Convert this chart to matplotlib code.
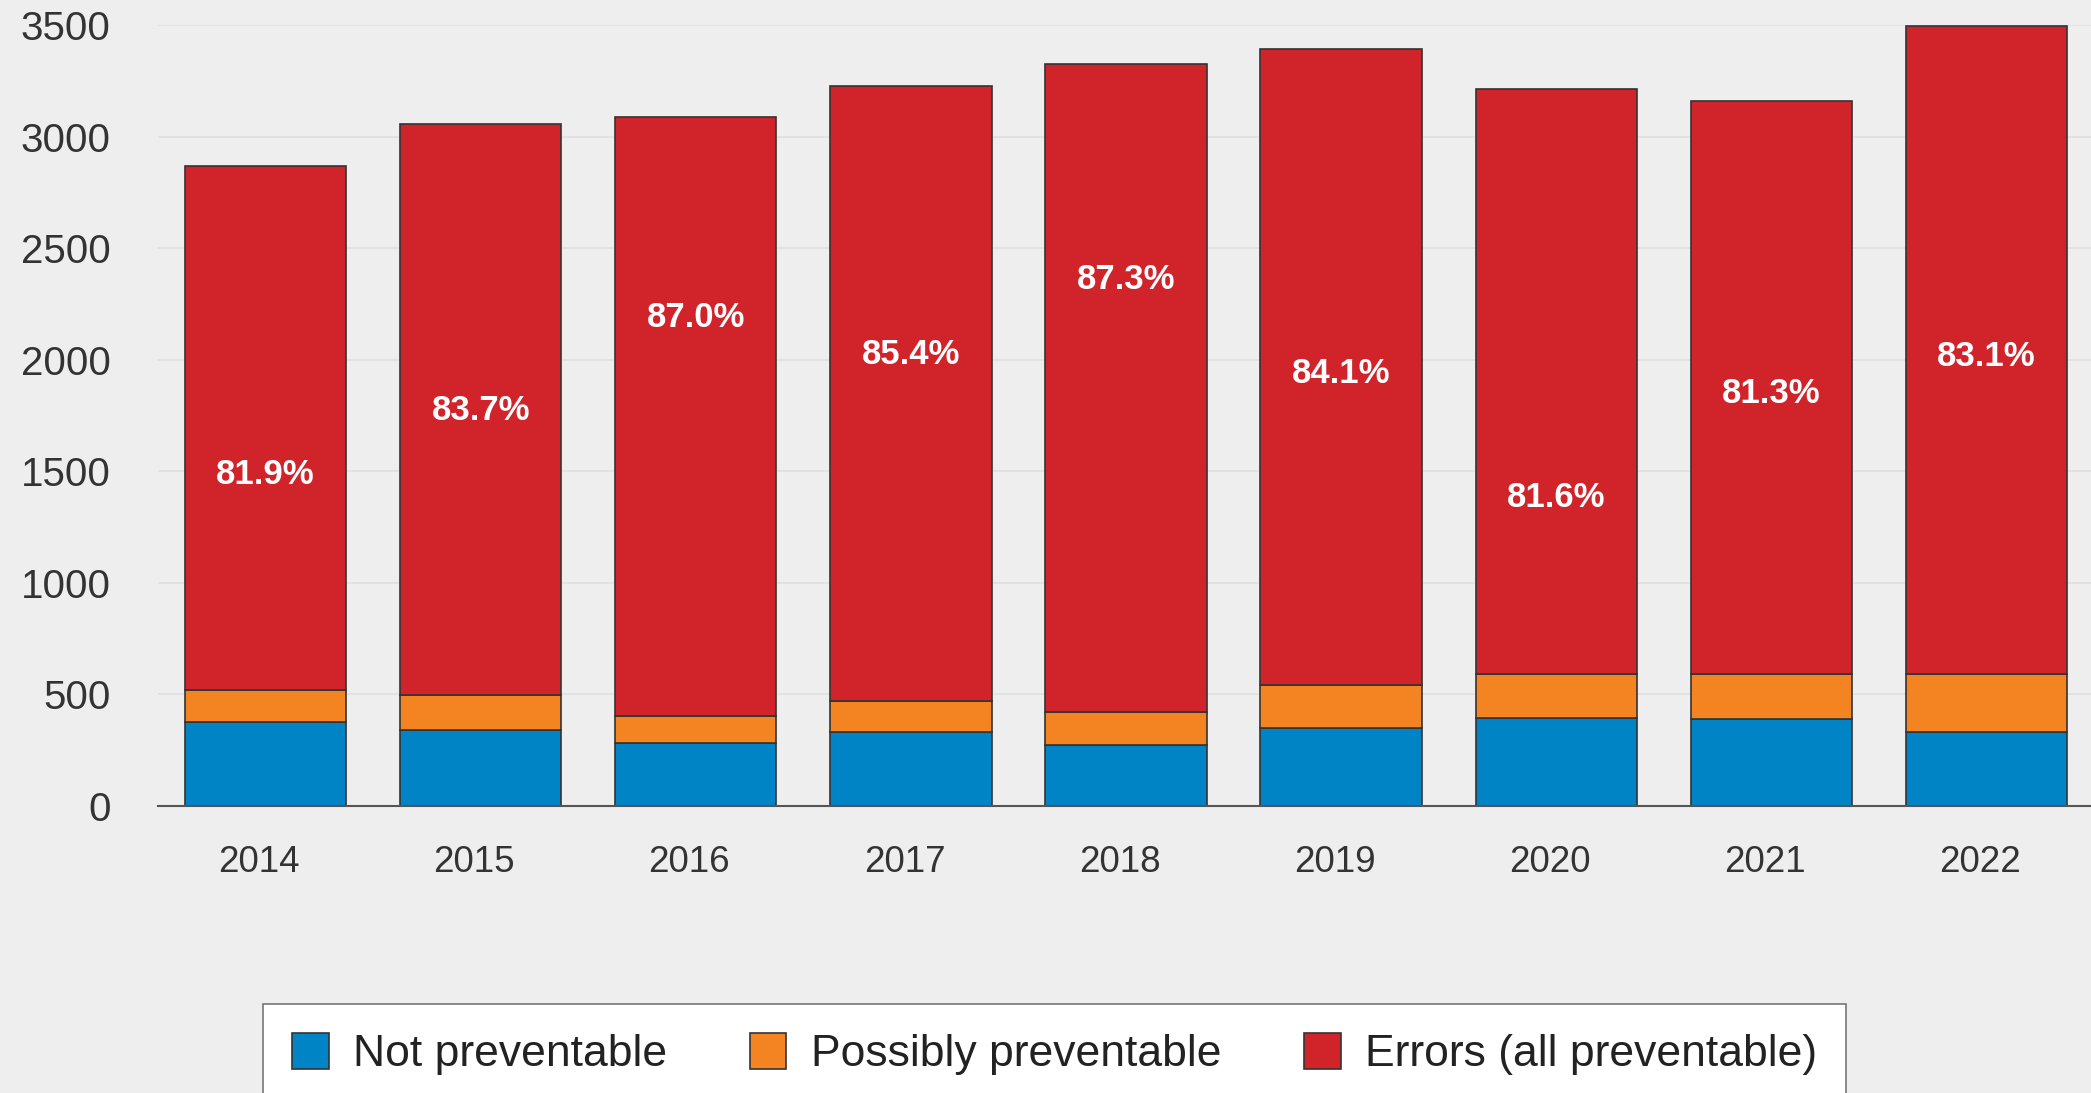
import matplotlib
matplotlib.use("Agg")
import matplotlib.pyplot as plt
import numpy as np

plt.rcParams['font.family'] = ['Liberation Sans', 'DejaVu Sans']

# data
years = ['2014', '2015', '2016', '2017', '2018', '2019', '2020', '2021', '2022']
not_preventable = [375, 341, 281, 332, 272, 347, 393, 387, 330]
possibly_preventable = [144, 157, 122, 139, 149, 194, 197, 205, 260]
errors = [2347, 2556, 2686, 2754, 2903, 2853, 2623, 2569, 2907]
pct_labels = ['81.9%', '83.7%', '87.0%', '85.4%', '87.3%', '84.1%', '81.6%', '81.3%', '83.1%']
label_y = [1484, 1771, 2189, 2022, 2357, 1938, 1382, 1848, 2016]
yticks = [0, 500, 1000, 1500, 2000, 2500, 3000, 3500]

BG = '#eeeeee'
BLUE = '#0084c6'
ORANGE = '#f48421'
RED = '#d1232a'
EDGE = '#333333'

fig = plt.figure(figsize=(20.91, 10.93), dpi=100, facecolor=BG)
ax = fig.add_axes([158 / 2091, 1 - 805.7 / 1093, 1 - 158 / 2091, (805.7 - 25) / 1093])
ax.set_facecolor(BG)

x = np.arange(len(years))
w = 0.75
nb = np.array(not_preventable)
pp = np.array(possibly_preventable)
ax.bar(x, nb, w, color=BLUE, edgecolor=EDGE, linewidth=1.2, label='Not preventable', zorder=3)
ax.bar(x, pp, w, bottom=nb, color=ORANGE, edgecolor=EDGE, linewidth=1.2,
       label='Possibly preventable', zorder=3)
ax.bar(x, errors, w, bottom=nb + pp, color=RED, edgecolor=EDGE, linewidth=1.2,
       label='Errors (all preventable)', zorder=3)

for xi, lab, ly in zip(x, pct_labels, label_y):
    ax.text(xi, ly, lab, ha='center', va='center', color='white', fontsize=25,
            fontweight='bold', zorder=4)

ax.set_xlim(-0.5, 8 + (2091 - 1986.5) / 215.1)
ax.set_ylim(0, 3500)
ax.set_yticks(yticks)
ax.set_yticklabels([str(t) for t in yticks])
ax.set_xticks(x - 0.03)
ax.set_xticklabels(years)
ax.tick_params(axis='y', length=0, pad=34, labelsize=29, labelcolor='#333333')
ax.tick_params(axis='x', length=0, pad=28, labelsize=26.5, labelcolor='#333333')
ax.grid(axis='y', color='#e0e0e0', linewidth=1.2, zorder=0)
ax.set_axisbelow(True)
for s in ['top', 'right', 'left']:
    ax.spines[s].set_visible(False)
ax.spines['bottom'].set_color('#555555')
ax.spines['bottom'].set_linewidth(1.5)
ax.spines['bottom'].set_zorder(5)

leg = fig.legend(loc='upper left', bbox_to_anchor=(263 / 2091, 1 - 1004 / 1093),
                 ncol=3, fontsize=32, frameon=True, fancybox=False, borderaxespad=0,
                 borderpad=0.65, handlelength=0.83, handleheight=0.88,
                 handletextpad=0.55, columnspacing=1.85)
leg.get_frame().set_facecolor('white')
leg.get_frame().set_edgecolor('#777777')
leg.get_frame().set_linewidth(1.2)
leg.get_frame().set_alpha(1)
for t in leg.get_texts():
    t.set_color('#222222')

fig.savefig('out.png', dpi=100, facecolor=BG)
